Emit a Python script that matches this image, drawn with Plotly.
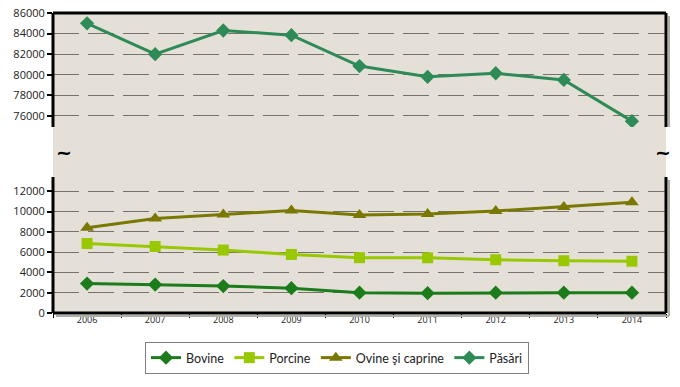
import plotly.graph_objects as go

years = ["2006", "2007", "2008", "2009", "2010", "2011", "2012", "2013", "2014"]
bovine = [2900, 2800, 2650, 2450, 2000, 1950, 2000, 2000, 2000]
porcine = [6850, 6550, 6200, 5770, 5450, 5440, 5250, 5150, 5100]
ovine_caprine = [8400, 9300, 9700, 10100, 9650, 9750, 10050, 10450, 10900]
pasari = [85000, 82000, 84300, 83850, 80850, 79800, 80150, 79500, 75500]

low_ticks = [0, 2000, 4000, 6000, 8000, 10000, 12000]
high_ticks = [76000, 78000, 80000, 82000, 84000, 86000]

C_BOV = "#1c7c1c"
C_POR = "#99c800"
C_OVI = "#7a7800"
C_PAS = "#2e8b57"
PAPER = "#e4e0d7"
FONT = "Open Sans, Liberation Sans, sans-serif"
LFONT = "Lato, Open Sans, sans-serif"

fig = go.Figure()
fig.add_trace(go.Scatter(x=years, y=bovine, name="Bovine", mode="lines+markers",
                         line=dict(color=C_BOV, width=3),
                         marker=dict(symbol="diamond", size=11, color=C_BOV),
                         xaxis="x", yaxis="y"))
fig.add_trace(go.Scatter(x=years, y=porcine, name="Porcine", mode="lines+markers",
                         line=dict(color=C_POR, width=3),
                         marker=dict(symbol="square", size=11, color=C_POR),
                         xaxis="x", yaxis="y"))
fig.add_trace(go.Scatter(x=years, y=ovine_caprine, name="Ovine şi caprine", mode="lines+markers",
                         line=dict(color=C_OVI, width=3),
                         marker=dict(symbol="triangle-up", size=12, color=C_OVI),
                         xaxis="x", yaxis="y"))
fig.add_trace(go.Scatter(x=years, y=pasari, name="Păsări", mode="lines+markers",
                         line=dict(color=C_PAS, width=3),
                         marker=dict(symbol="diamond", size=11, color=C_PAS),
                         xaxis="x2", yaxis="y2"))

grid = dict(showgrid=True, gridcolor="#77736c", gridwidth=1, griddash="26px,9px")
tickfont = dict(family=FONT, size=11, color="#222")

# The page body has an 8px margin, so the figure is 672x379 and all
# target screen positions are shifted by 8px.
OFF = 8
FW, FH = 680 - OFF, 387 - OFF
PX0, PX1, PY0, PY1 = 53 - OFF, 666 - OFF, 13 - OFF, 313 - OFF
L, R, T, B = PX0, FW - PX1, PY0, FH - PY1
H = FH - T - B
W = FW - L - R
top_dom = [(PY1 - (127 - OFF)) / H, 1.0]
bot_dom = [0.0, (PY1 - (177 - OFF)) / H]

fig.update_layout(
    width=FW, height=FH,
    margin=dict(l=L, r=R, t=T, b=B, autoexpand=False),
    paper_bgcolor="white",
    plot_bgcolor="rgba(0,0,0,0)",
    showlegend=True,
    legend=dict(orientation="h", x=(337 - OFF - L) / W, xanchor="center",
                yref="container", y=1 - (342 - OFF) / FH, yanchor="top",
                bordercolor="#808080", borderwidth=1, bgcolor="white",
                font=dict(family=LFONT, size=12.5, color="#222"),
                tracegroupgap=0, traceorder="normal"),
    xaxis=dict(domain=[0, 1], anchor="y", type="category", range=[-0.5, 8.5],
               tickson="boundaries", ticks="outside", ticklen=4, tickcolor="black", tickwidth=1,
               showline=False, showgrid=False, zeroline=False, automargin=False,
               tickfont=dict(family=FONT, size=9, color="#222")),
    xaxis2=dict(domain=[0, 1], anchor="y2", type="category", range=[-0.5, 8.5],
                matches="x", showticklabels=False, ticks="", showline=False, showgrid=False,
                zeroline=False, automargin=False),
    yaxis=dict(domain=bot_dom, anchor="x", range=[0, 13400], tickvals=low_ticks,
               ticktext=[str(v) for v in low_ticks], ticklabeloverflow="allow",
               ticks="outside", ticklen=5, tickcolor="black", tickwidth=2,
               zeroline=False, tickfont=tickfont, automargin=False, **grid),
    yaxis2=dict(domain=top_dom, anchor="x2", range=[74930, 86000], tickvals=high_ticks,
                ticktext=[str(v) for v in high_ticks], ticklabeloverflow="allow",
                ticks="outside", ticklen=5, tickcolor="black", tickwidth=2,
                zeroline=False, tickfont=tickfont, automargin=False, **grid),
)

shapes = []
shapes.append(dict(type="rect", xref="paper", yref="paper", x0=0, x1=1, y0=0, y1=1,
                   fillcolor=PAPER, line=dict(width=0), layer="below"))
# soft shadow along right and bottom edges
sx = 3 / W
sy = 3 / H
def sline(x0, y0, x1, y1):
    shapes.append(dict(type="line", xref="paper", yref="paper", x0=x0, y0=y0, x1=x1, y1=y1,
                       line=dict(color="#b0aca6", width=2), layer="above"))
sline(1 + sx, top_dom[0], 1 + sx, 1 - sy)
sline(1 + sx, -sy, 1 + sx, bot_dom[1] - sy)
sline(sx, -sy, 1 + sx, -sy)

bw = 3
def pline(x0, y0, x1, y1):
    shapes.append(dict(type="line", xref="paper", yref="paper", x0=x0, y0=y0, x1=x1, y1=y1,
                       line=dict(color="black", width=bw), layer="above"))
pline(0, 1, 1, 1)
pline(0, top_dom[0], 0, 1)
pline(1, top_dom[0], 1, 1)
pline(0, 0, 1, 0)
pline(0, 0, 0, bot_dom[1])
pline(1, 0, 1, bot_dom[1])
fig.update_layout(shapes=shapes)

gap_mid = (top_dom[0] + bot_dom[1]) / 2
fig.add_annotation(xref="paper", yref="paper", x=(64 - OFF - L) / W, y=gap_mid, text="<b>~</b>",
                   showarrow=False, xanchor="center", yanchor="middle",
                   font=dict(size=19, color="black", family="DejaVu Sans"))
fig.add_annotation(xref="paper", yref="paper", x=(663 - OFF - L) / W, y=gap_mid, text="<b>~</b>",
                   showarrow=False, xanchor="center", yanchor="middle",
                   font=dict(size=19, color="black", family="DejaVu Sans"))

fig.write_html("out.html")
